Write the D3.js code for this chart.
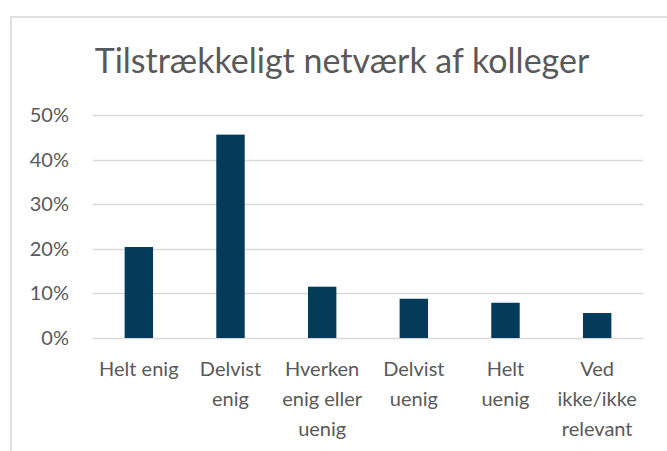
<!DOCTYPE html>
<meta charset="utf-8">
<style>
    body { margin: 0; background: #ffffff; }
    svg { display: block; }
    text { font-family: Lato, "Noto Sans", sans-serif; fill: #595959; }
</style>

<script src="https://d3js.org/d3.v7.min.js"></script>

<svg id="chart" width="667" height="451"></svg>

<script>

// Data

var categories = [
    ['Helt enig'],
    ['Delvist', 'enig'],
    ['Hverken', 'enig eller', 'uenig'],
    ['Delvist', 'uenig'],
    ['Helt', 'uenig'],
    ['Ved', 'ikke/ikke', 'relevant']
];
var values = [0.204, 0.456, 0.115, 0.088, 0.079, 0.056];
var yTicks = [0, 0.1, 0.2, 0.3, 0.4, 0.5];
var title = 'Tilstrækkeligt netværk af kolleger';

// Setup

var svg = d3.select('svg#chart');

var plot = { left: 93, right: 643, top: 115, bottom: 338 };
var barColor = '#043b59';
var gridColor = '#d9d9d9';

// chart area frame (cut off on the right and bottom)
svg.append('path')
    .attr('d', 'M 11,451 L 11,17 L 667,17')
    .attr('fill', 'none')
    .attr('stroke', '#e0e0e0')
    .attr('stroke-width', 2);

svg.append('text')
    .attr('x', 342)
    .attr('y', 73)
    .attr('text-anchor', 'middle')
    .style('font-size', '34px')
    .text(title);

var x = d3.scaleBand()
    .domain(d3.range(categories.length))
    .range([plot.left, plot.right])
    .paddingInner(0.69)
    .paddingOuter(0.345);

var y = d3.scaleLinear()
    .domain([0, 0.5])
    .range([plot.bottom, plot.top]);

// gridlines + y labels
svg.append('g')
    .selectAll('line')
    .data(yTicks)
    .enter()
    .append('line')
    .attr('x1', plot.left)
    .attr('x2', plot.right)
    .attr('y1', function(d) { return Math.round(y(d)) + 0.5; })
    .attr('y2', function(d) { return Math.round(y(d)) + 0.5; })
    .attr('stroke', gridColor)
    .attr('stroke-width', 1.5);

svg.append('g')
    .selectAll('text')
    .data(yTicks)
    .enter()
    .append('text')
    .attr('x', 69)
    .attr('y', function(d) { return y(d) + 7; })
    .attr('text-anchor', 'end')
    .style('font-size', '20px')
    .text(d3.format('.0%'));

// bars
svg.append('g')
    .selectAll('rect')
    .data(values)
    .enter()
    .append('rect')
    .attr('x', function(d, i) { return x(i); })
    .attr('width', x.bandwidth())
    .attr('y', function(d) { return y(d); })
    .attr('height', function(d) { return y(0) - y(d); })
    .attr('fill', barColor);

// category labels
var labels = svg.append('g')
    .selectAll('text')
    .data(categories)
    .enter()
    .append('text')
    .attr('text-anchor', 'middle')
    .style('font-size', '20px');

labels.selectAll('tspan')
    .data(function(d, i) { return d.map(function(line) { return { line: line, i: i }; }); })
    .enter()
    .append('tspan')
    .attr('x', function(d) { return x(d.i) + x.bandwidth() / 2; })
    .attr('y', function(d, j) { return 376 + j * 30; })
    .text(function(d) { return d.line; });

</script>
